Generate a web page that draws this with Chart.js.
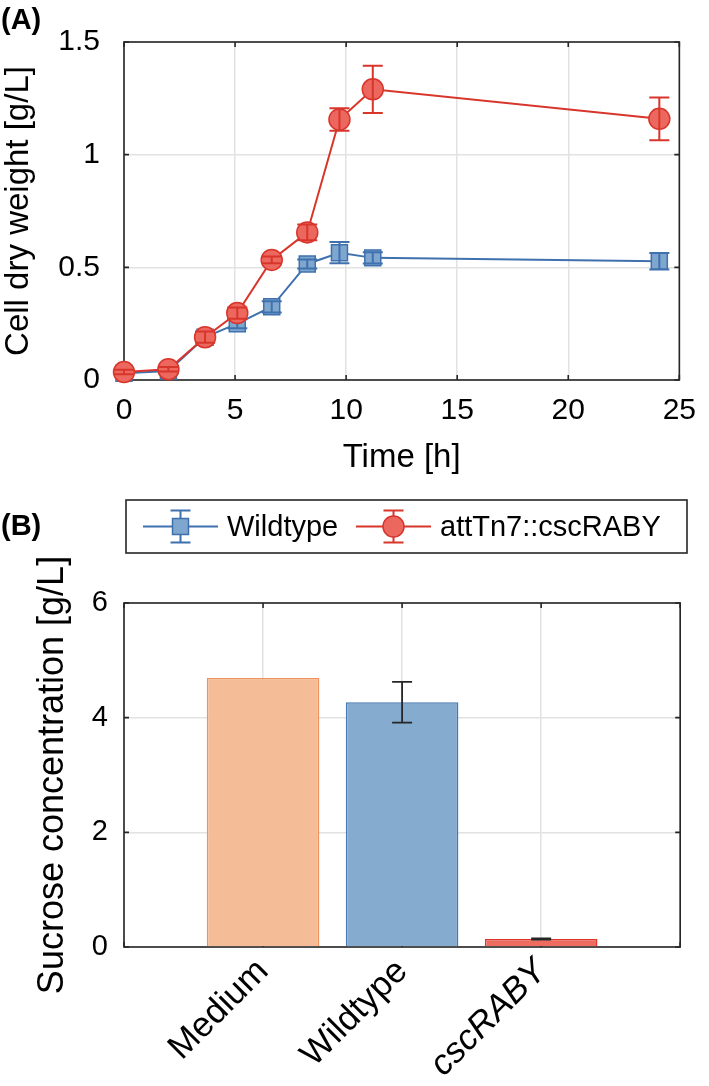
<!DOCTYPE html>
<html>
<head>
<meta charset="utf-8">
<script src="https://cdn.jsdelivr.net/npm/chart.js@4.4.1/dist/chart.umd.min.js"></script>
<style>
  html, body { margin: 0; padding: 0; background: #fff; }
  #wrap { position: relative; width: 709px; height: 1086px; }
  canvas { position: absolute; left: 0; }
</style>
</head>
<body>
<div id="wrap">
  <canvas id="cdwChart" width="709" height="480" style="top:0"></canvas>
  <canvas id="sucroseChart" width="709" height="606" style="top:480px"></canvas>
</div>
<script>
// (A) cell dry weight over time
const timeH = [0, 2, 3.65, 5.1, 6.65, 8.25, 9.7, 11.2, 24.1];
const wildtypeCdw = [0.03, 0.04, 0.19, 0.25, 0.325, 0.515, 0.565, 0.542, 0.527];
const wildtypeErr = [0.01, 0.01, 0.02, 0.02, 0.025, 0.02, 0.047, 0.025, 0.037];
const cscrabyCdw = [0.035, 0.048, 0.19, 0.297, 0.533, 0.655, 1.156, 1.29, 1.159];
const cscrabyErr = [0.01, 0.01, 0.025, 0.025, 0.015, 0.035, 0.05, 0.105, 0.095];
const seriesNames = ['Wildtype', 'attTn7::cscRABY'];

// (B) sucrose at end of cultivation
const sucroseLabels = ['Medium', 'Wildtype', 'cscRABY'];
const sucroseValues = [4.69, 4.27, 0.14];
const sucroseErr = [0, 0.355, 0.01];

const BLUE = '#3f71ae', BLUE_FILL = '#7ea6ce';
const RED = '#d8352b', RED_FILL = '#ec685e';
const AXIS = '#262626', GRID = '#e2e2e2';

Chart.defaults.font.family = "'Liberation Sans', Arial, Helvetica, sans-serif";
Chart.defaults.color = '#000';

// box round the plot with inward ticks on all four sides
const framePlugin = {
    id: 'frame',
    beforeDatasetsDraw(chart) {
        const { ctx, chartArea: a, scales } = chart;
        ctx.save();
        ctx.strokeStyle = AXIS;
        ctx.lineWidth = 1.6;
        ctx.strokeRect(a.left, a.top, a.right - a.left, a.bottom - a.top);
        ctx.beginPath();
        scales.x.ticks.forEach(t => {
            const px = scales.x.getPixelForValue(t.value);
            ctx.moveTo(px, a.bottom); ctx.lineTo(px, a.bottom - 5);
            ctx.moveTo(px, a.top); ctx.lineTo(px, a.top + 5);
        });
        scales.y.ticks.forEach(t => {
            const py = scales.y.getPixelForValue(t.value);
            ctx.moveTo(a.left, py); ctx.lineTo(a.left + 5, py);
            ctx.moveTo(a.right, py); ctx.lineTo(a.right - 5, py);
        });
        ctx.stroke();
        ctx.restore();
    }
};

// vertical error bars with caps, from dataset.errors
const errorBarPlugin = {
    id: 'errorBars',
    afterDatasetDraw(chart, args) {
        const ds = chart.data.datasets[args.index];
        if (!ds.errors) return;
        const y = chart.scales.y;
        const ctx = chart.ctx;
        const cap = ds.errorCap || 10;
        ctx.save();
        ctx.strokeStyle = ds.errorColor || ds.borderColor;
        ctx.lineWidth = ds.errorWidth || 2;
        args.meta.data.forEach((el, i) => {
            const e = ds.errors[i];
            if (!e) return;
            const v = ds.data[i].y;
            const top = y.getPixelForValue(v + e);
            const bot = y.getPixelForValue(v - e);
            ctx.beginPath();
            ctx.moveTo(el.x, top); ctx.lineTo(el.x, bot);
            ctx.moveTo(el.x - cap, top); ctx.lineTo(el.x + cap, top);
            ctx.moveTo(el.x - cap, bot); ctx.lineTo(el.x + cap, bot);
            ctx.stroke();
        });
        ctx.restore();
    }
};

// "(A)" / "(B)" panel letters
const panelLabelPlugin = {
    id: 'panelLabel',
    afterDraw(chart, args, opts) {
        if (!opts.text) return;
        const ctx = chart.ctx;
        ctx.save();
        ctx.font = "bold 29px 'Liberation Sans', Arial, sans-serif";
        ctx.fillStyle = '#000';
        ctx.textBaseline = 'middle';
        ctx.fillText(opts.text, opts.x, opts.y);
        ctx.restore();
    }
};

// boxed legend with errorbar markers, sits above panel B
const errLegendPlugin = {
    id: 'errLegend',
    afterDraw(chart, args, opts) {
        if (!opts.display) return;
        const ctx = chart.ctx;
        const { left, top, right, bottom } = opts.box;
        const cy = (top + bottom) / 2;
        ctx.save();
        ctx.strokeStyle = AXIS;
        ctx.lineWidth = 1.6;
        ctx.strokeRect(left, top, right - left, bottom - top);
        opts.items.forEach(it => {
            const mx = (it.x0 + it.x1) / 2;
            ctx.strokeStyle = it.color;
            ctx.lineWidth = 2;
            ctx.beginPath();
            ctx.moveTo(it.x0, cy); ctx.lineTo(it.x1, cy);
            ctx.moveTo(mx, cy - 16); ctx.lineTo(mx, cy + 16);
            ctx.moveTo(mx - 10, cy - 16); ctx.lineTo(mx + 10, cy - 16);
            ctx.moveTo(mx - 10, cy + 16); ctx.lineTo(mx + 10, cy + 16);
            ctx.stroke();
            ctx.fillStyle = it.fill;
            ctx.lineWidth = 1.5;
            ctx.beginPath();
            if (it.shape === 'rect') ctx.rect(mx - 8, cy - 8, 16, 16);
            else ctx.arc(mx, cy, 10.5, 0, Math.PI * 2);
            ctx.fill();
            ctx.stroke();
            ctx.fillStyle = '#000';
            ctx.font = "29px 'Liberation Sans', Arial, sans-serif";
            ctx.textBaseline = 'middle';
            ctx.fillText(it.label, it.x1 + 9, cy + 1);
        });
        ctx.restore();
    }
};

const cdwChart = new Chart(document.getElementById('cdwChart'), {
    type: 'line',
    data: {
        datasets: [{
            label: seriesNames[0],
            data: timeH.map((t, i) => ({ x: t, y: wildtypeCdw[i] })),
            errors: wildtypeErr,
            borderColor: BLUE,
            backgroundColor: BLUE_FILL,
            borderWidth: 2,
            pointStyle: 'rect',
            pointRadius: 11.3,
            pointBorderWidth: 1.5,
            pointBackgroundColor: BLUE_FILL,
            pointBorderColor: BLUE,
            clip: false,
            order: 2
        }, {
            label: seriesNames[1],
            data: timeH.map((t, i) => ({ x: t, y: cscrabyCdw[i] })),
            errors: cscrabyErr,
            borderColor: RED,
            backgroundColor: RED_FILL,
            borderWidth: 2,
            pointStyle: 'circle',
            pointRadius: 10.5,
            pointBorderWidth: 1.5,
            pointBackgroundColor: RED_FILL,
            pointBorderColor: RED,
            clip: false,
            order: 1
        }]
    },
    options: {
        responsive: false,
        animation: false,
        layout: { padding: { top: 37, right: 23, left: 0, bottom: 0 } },
        scales: {
            x: {
                type: 'linear',
                min: 0,
                max: 25,
                afterFit: s => { s.height = 100; },
                ticks: { stepSize: 5, padding: 13, font: { size: 30 } },
                grid: { color: GRID, lineWidth: 1.5, drawTicks: false },
                border: { display: false },
                title: {
                    display: true,
                    text: 'Time [h]',
                    font: { size: 33, lineHeight: 1 },
                    padding: { top: 0, bottom: 6 }
                }
            },
            y: {
                min: 0,
                max: 1.5,
                afterFit: s => { s.width = 124; },
                ticks: { stepSize: 0.5, padding: 24, font: { size: 30 }, callback: v => String(v) },
                grid: { color: GRID, lineWidth: 1.5, drawTicks: false },
                border: { display: false },
                title: {
                    display: true,
                    text: 'Cell dry weight [g/L]',
                    font: { size: 33, lineHeight: 1 },
                    padding: { top: 2, bottom: 0 }
                }
            }
        },
        plugins: {
            legend: { display: false },
            tooltip: { enabled: false },
            panelLabel: { text: '(A)', x: 1, y: 21 }
        }
    },
    plugins: [framePlugin, errorBarPlugin, panelLabelPlugin]
});

const sucroseChart = new Chart(document.getElementById('sucroseChart'), {
    type: 'bar',
    data: {
        datasets: [{
            data: sucroseValues.map((v, i) => ({ x: i + 1, y: v })),
            errors: sucroseErr,
            errorColor: AXIS,
            errorWidth: 1.8,
            errorCap: 10,
            backgroundColor: ['#f5bd97', '#85abcf', '#ee6b60'],
            borderColor: ['#f0925d', '#4a79b1', '#e0352b'],
            borderWidth: 1.5,
            barPercentage: 0.9,
            categoryPercentage: 0.9
        }]
    },
    options: {
        responsive: false,
        animation: false,
        layout: { padding: { top: 123, right: 22, left: 0, bottom: 0 } },
        scales: {
            x: {
                type: 'linear',
                min: 0,
                max: 4,
                offset: false,
                afterFit: s => { s.height = 139; },
                ticks: {
                    stepSize: 1,
                    autoSkip: false,
                    minRotation: 45,
                    maxRotation: 45,
                    padding: 9,
                    callback: v => sucroseLabels[v - 1] || '',
                    font: ctx => ({
                        size: 35,
                        lineHeight: 0.8,
                        style: ctx.tick && sucroseLabels[ctx.tick.value - 1] === 'cscRABY' ? 'italic' : 'normal'
                    })
                },
                grid: { color: GRID, lineWidth: 1.5, drawTicks: false, offset: false },
                border: { display: false }
            },
            y: {
                min: 0,
                max: 6,
                afterFit: s => { s.width = 124; },
                ticks: { stepSize: 2, padding: 16, font: { size: 29 } },
                grid: { color: GRID, lineWidth: 1.5, drawTicks: false },
                border: { display: false },
                title: {
                    display: true,
                    text: 'Sucrose concentration [g/L]',
                    font: { size: 36, lineHeight: 1 },
                    padding: { top: 35, bottom: 0 }
                }
            }
        },
        plugins: {
            legend: { display: false },
            tooltip: { enabled: false },
            panelLabel: { text: '(B)', x: 1, y: 47 },
            errLegend: {
                display: true,
                box: { left: 126, top: 20, right: 687, bottom: 73 },
                items: [
                    { label: seriesNames[0], x0: 143, x1: 218, color: BLUE, fill: BLUE_FILL, shape: 'rect' },
                    { label: seriesNames[1], x0: 356, x1: 431, color: RED, fill: RED_FILL, shape: 'circle' }
                ]
            }
        }
    },
    plugins: [framePlugin, errorBarPlugin, panelLabelPlugin, errLegendPlugin]
});
</script>
</body>
</html>
